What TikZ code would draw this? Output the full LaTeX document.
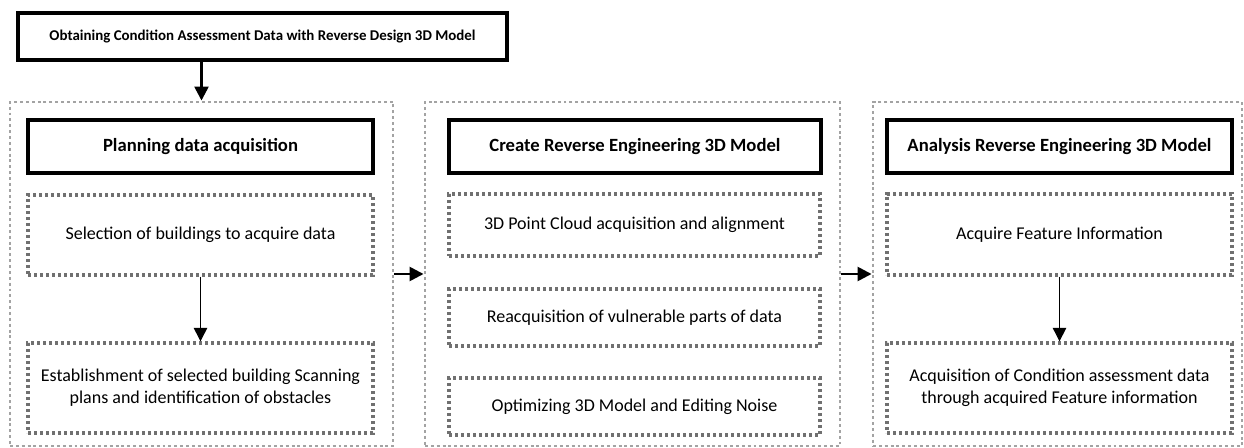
\documentclass[tikz,border=0pt]{standalone}
\usepackage{fontspec}
\setmainfont{Carlito}
\usetikzlibrary{arrows.meta}
\begin{document}
\begin{tikzpicture}[x=0.75pt,y=-0.75pt,
  outerbox/.style={draw=black!36,line width=2.2pt,dash pattern=on 2.2pt off 2.2pt,inner sep=0pt},
  headbox/.style={draw=black,line width=2.3pt,font=\bfseries\fontsize{14pt}{16pt}\selectfont,align=center,inner sep=0pt},
  innerbox/.style={draw=black!56,line width=2.5pt,dash pattern=on 2.4pt off 2.1pt,font=\fontsize{13.5pt}{16.5pt}\selectfont,align=center,inner sep=0pt},
  titlebox/.style={draw=black,line width=2.6pt,font=\bfseries\fontsize{11.2pt}{13pt}\selectfont,inner sep=0pt},
  bigarrow/.style={line width=1.9pt,-{Triangle[length=10.5pt,width=10.5pt]}},
  thinarrow/.style={line width=0.8pt,-{Triangle[length=10pt,width=10pt]}}
]
\useasboundingbox (0,0) rectangle (1244,448);
% title
\node[titlebox,minimum width=489*0.75pt,minimum height=47*0.75pt] (T) at (262.5,36.5) {Obtaining Condition Assessment Data with Reverse Design 3D Model};
% outer boxes
\node[outerbox,minimum width=383*0.75pt,minimum height=344*0.75pt] (O1) at (201.5,274) {};
\node[outerbox,minimum width=415*0.75pt,minimum height=344*0.75pt] (O2) at (632.5,274) {};
\node[outerbox,minimum width=369*0.75pt,minimum height=344*0.75pt] (O3) at (1057.5,274) {};
% headers
\node[headbox,minimum width=345*0.75pt,minimum height=53*0.75pt] (H1) at (200.5,146.5) {Planning data acquisition};
\node[headbox,minimum width=372*0.75pt,minimum height=53*0.75pt] (H2) at (635,146.5) {Create Reverse Engineering 3D Model};
\node[headbox,minimum width=345*0.75pt,minimum height=53*0.75pt] (H3) at (1059.5,146.5) {Analysis Reverse Engineering 3D Model};
% inner boxes
\node[innerbox,minimum width=345*0.75pt,minimum height=80*0.75pt] (A1) at (200.5,235) {Selection of buildings to acquire data};
\node[innerbox,minimum width=345*0.75pt,minimum height=90*0.75pt] (A2) at (200.5,388) {Establishment of selected building Scanning\\plans and identification of obstacles};
\node[innerbox,minimum width=371*0.75pt,minimum height=62*0.75pt] (B1) at (634.5,225) {3D Point Cloud acquisition and alignment};
\node[innerbox,minimum width=371*0.75pt,minimum height=57*0.75pt] (B2) at (634.5,317.5) {Reacquisition of vulnerable parts of data};
\node[innerbox,minimum width=371*0.75pt,minimum height=57*0.75pt] (B3) at (634.5,406.5) {Optimizing 3D Model and Editing Noise};
\node[innerbox,minimum width=345*0.75pt,minimum height=81*0.75pt] (C1) at (1059.5,234.5) {Acquire Feature Information};
\node[innerbox,minimum width=345*0.75pt,minimum height=90*0.75pt] (C2) at (1059.5,388) {Acquisition of Condition assessment data\\through acquired Feature information};
% arrows
\draw[bigarrow] (O1.north |- T.south) -- (O1.north);
\draw[thinarrow] (A1.south) -- (A2.north);
\draw[thinarrow] (C1.south) -- (C2.north);
\draw[bigarrow] (O1.east) -- (O2.west);
\draw[bigarrow] (O2.east) -- (O3.west);
\end{tikzpicture}
\end{document}
